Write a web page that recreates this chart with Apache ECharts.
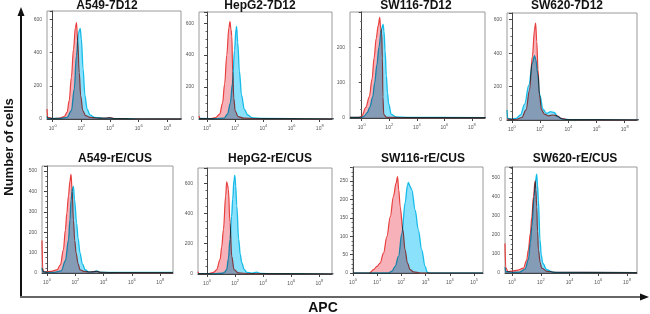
<!DOCTYPE html>
<html>
<head>
<meta charset="utf-8">
<title>APC histograms</title>
<script src="https://cdn.jsdelivr.net/npm/echarts@6/dist/echarts.min.js"></script>
</head>
<body style="margin:0;background:#fff;">
<div id="main" style="width:650px;height:314px;"></div>
<script>
// x values are log10(APC), y values are cell counts
var panelTitles = ['A549-7D12', 'HepG2-7D12', 'SW116-7D12', 'SW620-7D12',
                   'A549-rE/CUS', 'HepG2-rE/CUS', 'SW116-rE/CUS', 'SW620-rE/CUS'];

var red_A549_7D12 = [[-0.4,60],[-0.35,10],[0,3],[0.5,6],[0.8,15],[1.0,40],[1.15,110],[1.3,250],[1.45,420],[1.58,550],[1.66,580],[1.74,470],[1.85,280],[1.95,140],[2.1,50],[2.3,20],[2.6,10],[3,6],[3.6,5],[4,8],[4.3,3],[5,2],[6,1],[9,1]];
var cyan_A549_7D12 = [[-0.4,15],[-0.35,3],[0.5,3],[1.0,10],[1.3,50],[1.5,180],[1.65,380],[1.8,520],[1.92,545],[2.0,480],[2.12,300],[2.25,140],[2.4,60],[2.6,25],[2.9,10],[3.5,5],[4,6],[4.3,2],[6,1],[9,1]];

var red_HepG2_7D12 = [[-0.57,20],[-0.5,2],[0.3,3],[0.6,8],[0.9,30],[1.1,100],[1.25,220],[1.4,400],[1.55,570],[1.63,610],[1.7,560],[1.76,520],[1.82,300],[1.9,130],[2.0,50],[2.2,15],[2.6,5],[3.5,2],[9,1]];
var cyan_HepG2_7D12 = [[-0.57,3],[0.5,2],[1.2,5],[1.45,30],[1.65,100],[1.8,220],[1.95,430],[2.05,560],[2.1,580],[2.18,480],[2.3,300],[2.45,150],[2.65,60],[2.9,25],[3.2,8],[4,3],[9,1]];

var red_SW116_7D12 = [[-0.85,2],[-0.2,2],[0,5],[0.3,30],[0.55,60],[0.75,110],[0.9,170],[1.05,225],[1.2,262],[1.31,285],[1.37,255],[1.45,240],[1.5,170],[1.54,60],[1.6,10],[1.8,2],[3,1],[9,1]];
var cyan_SW116_7D12 = [[-0.85,2],[0,2],[0.17,5],[0.4,15],[0.58,30],[0.8,60],[0.94,100],[1.1,150],[1.25,200],[1.42,250],[1.55,265],[1.62,245],[1.7,190],[1.79,120],[1.88,70],[1.96,40],[2.15,10],[2.5,3],[3.5,2],[9,1]];

var red_SW620_7D12 = [[-0.35,5],[0.3,3],[0.7,15],[1.0,60],[1.25,180],[1.45,380],[1.6,540],[1.68,580],[1.76,470],[1.85,300],[1.95,150],[2.1,60],[2.3,35],[2.6,25],[2.9,30],[3.2,25],[3.5,10],[3.9,3],[9,1]];
var cyan_SW620_7D12 = [[-0.35,60],[-0.3,10],[0,5],[0.3,10],[0.6,30],[0.9,95],[1.2,210],[1.45,340],[1.6,385],[1.7,360],[1.82,280],[1.98,150],[2.2,65],[2.45,40],[2.75,50],[3.0,45],[3.25,20],[3.6,5],[4.2,2],[9,1]];

var red_A549_rECUS = [[-0.35,160],[-0.3,20],[-0.2,5],[0.3,8],[0.7,15],[0.95,40],[1.16,114],[1.3,210],[1.4,292],[1.52,380],[1.62,450],[1.7,484],[1.78,400],[1.87,260],[1.96,160],[2.06,97],[2.2,45],[2.34,16],[2.6,8],[3.0,5],[3.5,8],[3.8,3],[5,2],[8.9,2]];
var cyan_A549_rECUS = [[-0.35,25],[-0.3,8],[0,3],[0.5,3],[1.0,10],[1.3,60],[1.52,162],[1.62,260],[1.7,357],[1.8,415],[1.87,425],[1.95,360],[2.1,243],[2.2,170],[2.34,97],[2.5,45],[2.7,16],[2.93,6],[3.3,6],[3.52,10],[3.75,4],[5,3],[8.9,3]];

var red_HepG2_rECUS = [[-0.64,15],[-0.58,3],[0,2],[0.21,5],[0.5,12],[0.69,29],[0.93,95],[1.05,180],[1.17,294],[1.33,516],[1.4,609],[1.46,590],[1.52,560],[1.64,339],[1.76,117],[1.93,29],[2.24,7],[3,3],[9,1]];
var cyan_HepG2_rECUS = [[-0.64,3],[0.5,2],[1.1,5],[1.25,12],[1.4,29],[1.52,100],[1.64,228],[1.75,380],[1.83,494],[1.92,620],[1.98,653],[2.05,580],[2.12,450],[2.26,228],[2.37,130],[2.48,73],[2.65,30],[2.83,11],[3.2,6],[3.55,12],[3.8,4],[5,2],[9,1]];

var red_SW116_rECUS = [[0,0],[0.68,0],[0.85,9],[0.99,18],[1.12,27],[1.26,54],[1.4,99],[1.54,153],[1.67,208],[1.78,244],[1.84,262],[1.89,226],[1.95,180],[2.06,117],[2.15,63],[2.25,27],[2.36,9],[2.5,3],[2.8,0],[5.37,0]];
var cyan_SW116_rECUS = [[0,0],[1.47,0],[1.61,5],[1.74,18],[1.88,45],[2.02,108],[2.15,190],[2.25,239],[2.29,246],[2.36,235],[2.43,226],[2.57,171],[2.7,117],[2.84,63],[2.98,18],[3.07,2],[3.18,0],[5.37,0]];

var red_SW620_rECUS = [[-0.5,155],[-0.45,30],[-0.3,8],[0,10],[0.4,15],[0.79,26],[1.0,65],[1.13,122],[1.27,210],[1.37,296],[1.48,401],[1.6,484],[1.65,440],[1.71,348],[1.77,220],[1.83,122],[1.95,55],[2.06,26],[2.41,9],[3,4],[8.7,2]];
var cyan_SW620_rECUS = [[-0.5,30],[-0.45,8],[0,3],[0.5,5],[0.9,20],[1.13,70],[1.27,160],[1.37,244],[1.53,401],[1.62,480],[1.71,519],[1.77,460],[1.83,383],[1.94,174],[2.03,95],[2.13,52],[2.41,17],[2.87,4],[3.5,3],[8.7,2]];

var redData = [red_A549_7D12, red_HepG2_7D12, red_SW116_7D12, red_SW620_7D12,
               red_A549_rECUS, red_HepG2_rECUS, red_SW116_rECUS, red_SW620_rECUS];
var cyanData = [cyan_A549_7D12, cyan_HepG2_7D12, cyan_SW116_7D12, cyan_SW620_7D12,
                cyan_A549_rECUS, cyan_HepG2_rECUS, cyan_SW116_rECUS, cyan_SW620_rECUS];

var yMax = [650, 670, 300, 640, 525, 700, 288, 557];
var yStep = [200, 200, 100, 200, 100, 200, 50, 100];
var xMin = [-0.4, -0.57, -0.85, -0.35, -0.35, -0.64, 0, -0.5];
var xMax = [8.95, 8.87, 8.95, 8.87, 8.9, 8.9, 5.37, 8.7];
var xTickEven = [0, 2, 4, 6, 8];
var xTickAll = [0, 1, 2, 3, 4, 5];
var xLabelDecades = [xTickEven, xTickEven, xTickEven, xTickEven, xTickEven, xTickEven, xTickAll, xTickEven];

// layout: [left, top, width, height] in px
var boxes = [
  [47, 11, 134, 108], [199, 12, 133, 107], [350, 12, 135, 106], [507, 13, 130, 107],
  [42, 166, 131, 107], [198, 168, 134, 106], [353, 167, 130, 106], [505, 167, 132, 106]
];
var titlePos = [[107, 6], [260, 6], [416, 6], [567, 6], [115, 159], [270, 159], [423, 159], [575, 159]];

var chart = echarts.init(document.getElementById('main'));

var grid = [], xAxis = [], yAxis = [], series = [], graphic = [];
var tickFont = 'Liberation Sans';

for (var i = 0; i < 8; i++) {
  var b = boxes[i];
  grid.push({
    left: b[0], top: b[1], width: b[2], height: b[3],
    show: true, borderColor: '#9a9a9a', borderWidth: 1, backgroundColor: 'transparent'
  });
  xAxis.push({
    type: 'value', gridIndex: i, min: xMin[i], max: xMax[i],
    axisLine: { show: true, lineStyle: { color: '#444', width: 1 } },
    axisTick: { show: true, length: 3, customValues: xLabelDecades[i], lineStyle: { color: '#444' } },
    axisLabel: {
      show: true, customValues: xLabelDecades[i], margin: 5,
      formatter: function (v) { return '{b|10}{s|' + v + '}'; },
      rich: {
        b: { fontSize: 5, color: '#555', fontFamily: tickFont },
        s: { fontSize: 4, color: '#555', fontFamily: tickFont, padding: [0, 0, 5, 0] }
      }
    },
    splitLine: { show: false }
  });
  yAxis.push({
    type: 'value', gridIndex: i, min: 0, max: yMax[i], interval: yStep[i],
    axisLine: { show: true, lineStyle: { color: '#444', width: 1 } },
    axisTick: { show: true, length: 3, lineStyle: { color: '#444' } },
    minorTick: { show: true, splitNumber: 4, length: 1.5, lineStyle: { color: '#666' } },
    axisLabel: { fontSize: 5, color: '#555', fontFamily: tickFont, margin: 5, showMaxLabel: false },
    splitLine: { show: false }
  });
  series.push({
    type: 'line', xAxisIndex: i, yAxisIndex: i, data: redData[i],
    smooth: 0.35, smoothMonotone: 'x', symbol: 'none', silent: true, z: 2,
    lineStyle: { color: '#e8403e', width: 1.2 },
    areaStyle: { color: 'rgb(238,100,115)', opacity: 0.5 }
  });
  series.push({
    type: 'line', xAxisIndex: i, yAxisIndex: i, data: cyanData[i],
    smooth: 0.35, smoothMonotone: 'x', symbol: 'none', silent: true, z: 3,
    blendMode: 'multiply',
    lineStyle: { color: '#1ec8ea', width: 1.3 },
    areaStyle: { color: 'rgb(60,205,250)', opacity: 0.6 }
  });
  graphic.push({
    type: 'text', x: titlePos[i][0], y: titlePos[i][1],
    style: {
      text: panelTitles[i], fill: '#111', font: 'bold 12px "Liberation Sans"',
      textAlign: 'center', textVerticalAlign: 'middle'
    }
  });
}

// outer axes with arrows
graphic.push(
  { type: 'line', shape: { x1: 21, y1: 297, x2: 21, y2: 14 }, style: { stroke: '#111', lineWidth: 2 } },
  { type: 'polygon', shape: { points: [[21, 7], [17.5, 16], [24.5, 16]] }, style: { fill: '#111' } },
  { type: 'line', shape: { x1: 20, y1: 297, x2: 641, y2: 297 }, style: { stroke: '#666', lineWidth: 2 } },
  { type: 'polygon', shape: { points: [[649, 297], [640, 293.5], [640, 300.5]] }, style: { fill: '#111' } },
  {
    type: 'text', x: 9, y: 147, rotation: Math.PI / 2,
    style: {
      text: 'Number of cells', fill: '#111',
      font: 'bold 13px "Liberation Sans Narrow", "Liberation Sans"',
      textAlign: 'center', textVerticalAlign: 'middle'
    }
  },
  {
    type: 'text', x: 323, y: 308,
    style: {
      text: 'APC', fill: '#111', font: 'bold 14px "Liberation Sans"',
      textAlign: 'center', textVerticalAlign: 'middle'
    }
  }
);

chart.setOption({
  animation: false,
  backgroundColor: '#ffffff',
  grid: grid,
  xAxis: xAxis,
  yAxis: yAxis,
  series: series,
  graphic: graphic
});
</script>
</body>
</html>
